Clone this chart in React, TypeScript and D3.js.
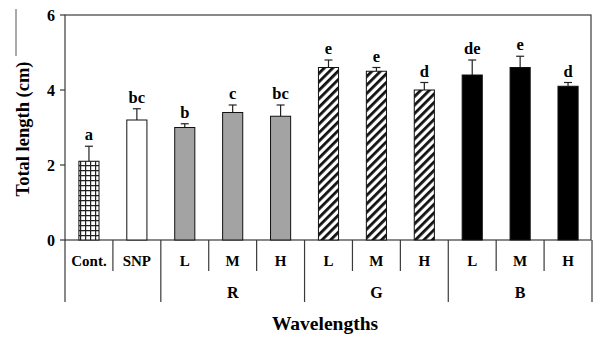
import React, { useEffect, useRef } from 'react';
import * as d3 from 'd3';

// Total length by treatment
const treatments = ['Cont.', 'SNP', 'L', 'M', 'H', 'L', 'M', 'H', 'L', 'M', 'H'];
const wavelengths = ['', '', 'R', 'R', 'R', 'G', 'G', 'G', 'B', 'B', 'B'];
const means = [2.1, 3.2, 3.0, 3.4, 3.3, 4.6, 4.5, 4.0, 4.4, 4.6, 4.1];
const errors = [0.4, 0.3, 0.1, 0.2, 0.3, 0.2, 0.1, 0.2, 0.4, 0.3, 0.1];
const letters = ['a', 'bc', 'b', 'c', 'bc', 'e', 'e', 'd', 'de', 'e', 'd'];
const groupNames = ['R', 'G', 'B'];
const yTicks = [0, 2, 4, 6];

export default function App() {
  const svgRef = useRef<SVGSVGElement>(null);

  useEffect(() => {
    if (!svgRef.current) return;
    document.body.style.margin = '0';

    const width = 593;
    const height = 337;
    const font = '"Liberation Serif", "Times New Roman", serif';
    const frame = '#3a3a3a';

    const svg = d3.select(svgRef.current);
    svg.selectAll('*').remove();
    svg.attr('width', width).attr('height', height).style('background', '#fff');

    const ids = treatments.map((_, i) => String(i));
    const x = d3.scaleBand<string>().domain(ids).range([65, 592])
      .paddingInner(0.58).paddingOuter(0.29);
    const y = d3.scaleLinear().domain([0, 6]).range([240, 15]);
    const step = x.step();

    // patterns
    const defs = svg.append('defs');
    const grid = defs.append('pattern').attr('id', 'grid')
      .attr('patternUnits', 'userSpaceOnUse').attr('width', 5).attr('height', 5);
    grid.append('rect').attr('width', 5).attr('height', 5).attr('fill', '#fff');
    grid.append('path').attr('d', 'M0,0.5H5M0.5,0V5').attr('stroke', '#222').attr('stroke-width', 1.4);

    const hatch = defs.append('pattern').attr('id', 'hatch')
      .attr('patternUnits', 'userSpaceOnUse').attr('width', 6).attr('height', 6)
      .attr('patternTransform', 'rotate(45)');
    hatch.append('rect').attr('width', 6).attr('height', 6).attr('fill', '#fff');
    hatch.append('rect').attr('x', 0).attr('width', 2.8).attr('height', 6).attr('fill', '#111');

    const fillFor = (i: number) => {
      if (i === 0) return 'url(#grid)';
      if (i === 1) return '#fff';
      if (wavelengths[i] === 'R') return '#a3a3a3';
      if (wavelengths[i] === 'G') return 'url(#hatch)';
      return '#000';
    };

    // plot frame
    svg.append('rect').attr('x', 65).attr('y', 15).attr('width', 526).attr('height', 225)
      .attr('fill', 'none').attr('stroke', frame).attr('stroke-width', 1.2);

    // y axis ticks
    yTicks.forEach(t => {
      svg.append('line').attr('x1', 60).attr('x2', 65).attr('y1', y(t)).attr('y2', y(t))
        .attr('stroke', frame).attr('stroke-width', 1.2);
      svg.append('text').attr('x', 55).attr('y', y(t) + 5.5)
        .attr('text-anchor', 'end').attr('font-family', font).attr('font-weight', 'bold')
        .attr('font-size', 16).text(t);
    });

    // bars, error bars and letters
    ids.forEach((id, i) => {
      const bx = x(id)!;
      const bw = x.bandwidth();
      const cx = bx + bw / 2;
      const top = y(means[i] + errors[i]);
      svg.append('line').attr('x1', cx).attr('x2', cx).attr('y1', y(means[i])).attr('y2', top)
        .attr('stroke', '#222').attr('stroke-width', 1.2);
      svg.append('line').attr('x1', cx - 4).attr('x2', cx + 4).attr('y1', top).attr('y2', top)
        .attr('stroke', '#222').attr('stroke-width', 1.2);
      svg.append('rect').attr('x', bx).attr('y', y(means[i]))
        .attr('width', bw).attr('height', y(0) - y(means[i]))
        .attr('fill', fillFor(i)).attr('stroke', '#111').attr('stroke-width', 1);
      svg.append('text').attr('x', cx).attr('y', top - 6)
        .attr('text-anchor', 'middle').attr('font-family', font).attr('font-weight', 'bold')
        .attr('font-size', 16.5).text(letters[i]);
      svg.append('text').attr('x', cx).attr('y', 266)
        .attr('text-anchor', 'middle').attr('font-family', font).attr('font-weight', 'bold')
        .attr('font-size', 15).text(treatments[i]);
    });

    // separators below the axis
    d3.range(treatments.length + 1).forEach(k => {
      const sx = k < treatments.length
        ? x(ids[k])! - step * x.paddingInner() / 2
        : x(ids[k - 1])! + x.bandwidth() + step * x.paddingInner() / 2;
      const long = k === treatments.length || k === 0 || wavelengths[k] !== wavelengths[k - 1];
      svg.append('line').attr('x1', sx).attr('x2', sx).attr('y1', 240).attr('y2', long ? 302 : 271)
        .attr('stroke', frame).attr('stroke-width', 1.2);
    });

    // wavelength group labels
    groupNames.forEach(g => {
      const idx = ids.filter((_, i) => wavelengths[i] === g);
      const x0 = x(idx[0])!;
      const x1 = x(idx[idx.length - 1])! + x.bandwidth();
      svg.append('text').attr('x', (x0 + x1) / 2).attr('y', 298)
        .attr('text-anchor', 'middle').attr('font-family', font).attr('font-weight', 'bold')
        .attr('font-size', 16).text(g);
    });

    // axis titles
    svg.append('text').attr('x', 325).attr('y', 330)
      .attr('text-anchor', 'middle').attr('font-family', font).attr('font-weight', 'bold')
      .attr('font-size', 19.5).text('Wavelengths');
    svg.append('text').attr('transform', 'translate(29,129) rotate(-90)')
      .attr('text-anchor', 'middle').attr('font-family', font).attr('font-weight', 'bold')
      .attr('font-size', 18.5).text('Total length (cm)');
    svg.append('line').attr('x1', 16).attr('x2', 16).attr('y1', 9).attr('y2', 56)
      .attr('stroke', '#555').attr('stroke-width', 1);
  }, []);

  return <svg ref={svgRef}></svg>;
}
